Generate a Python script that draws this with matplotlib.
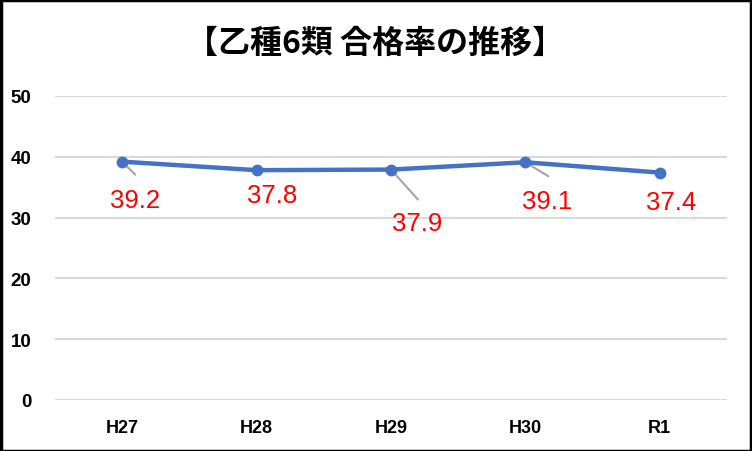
import matplotlib
matplotlib.use("Agg")
import matplotlib.pyplot as plt
from matplotlib.patches import Rectangle
from matplotlib import font_manager

categories = ["H27", "H28", "H29", "H30", "R1"]
pass_rate = [39.2, 37.8, 37.9, 39.1, 37.4]
y_ticks = [0, 10, 20, 30, 40, 50]
title = "【乙種6類 合格率の推移】"

avail = {f.name for f in font_manager.fontManager.ttflist}
narrow = "Liberation Sans Narrow" if "Liberation Sans Narrow" in avail else "Liberation Sans"

fig = plt.figure(figsize=(7.52, 4.52), dpi=100)
W, H = 752, 452
ax = fig.add_axes([55 / W, (H - 401) / H, (727 - 55) / W, (401 - 97) / H])

x = list(range(len(categories)))
ax.plot(x, pass_rate, color="#4472C4", lw=3.2, marker="o", markersize=7.5,
        solid_capstyle="round", zorder=3)

ax.set_xlim(-0.5, len(categories) - 0.5)
ax.set_ylim(0, 50)
ax.set_yticks(y_ticks)
ax.set_yticklabels([str(t) for t in y_ticks], fontsize=13.5, fontweight="bold",
                   family="Liberation Sans")
ax.set_xticks(x)
ax.set_xticklabels(categories, fontsize=13, fontweight="bold", family=narrow)
ax.tick_params(axis="both", length=0)
ax.tick_params(axis="y", pad=17)
ax.tick_params(axis="x", pad=14)
for s in ax.spines.values():
    s.set_visible(False)
ax.yaxis.grid(True, color="#D9D9D9", lw=1.5)
ax.set_axisbelow(True)

# label offsets (pixels) and leader-line end offsets
label_off = [(13, -38), (16, -25), (26, -53), (22, -39), (11, -29)]
leader_end = [(13, -13), None, (27, -30), (23, -14), None]
for i, v in enumerate(pass_rate):
    le = leader_end[i]
    if le is not None:
        ax.annotate("", xy=(i, v), xytext=le, textcoords="offset pixels",
                    arrowprops=dict(arrowstyle="-", color="#A6A6A6", lw=1.5,
                                    shrinkA=0, shrinkB=0), zorder=2)
    ax.annotate(f"{v:.1f}", xy=(i, v), xytext=label_off[i],
                textcoords="offset pixels", ha="center", va="center",
                color="#FF0000", fontsize=18.5, family="Liberation Sans")

fig.text(375.5 / W, 1 - 44 / H, title, ha="center", va="center",
         fontsize=23, fontweight="bold",
         family=["Noto Sans CJK JP", "DejaVu Sans"])

fig.patches.append(Rectangle((0.5 / W, 0.5 / H), 1 - 1.5 / W, 1 - 1.5 / H,
                             transform=fig.transFigure, fill=False,
                             edgecolor="black", lw=2.5))

fig.savefig("out.png", dpi=100)
